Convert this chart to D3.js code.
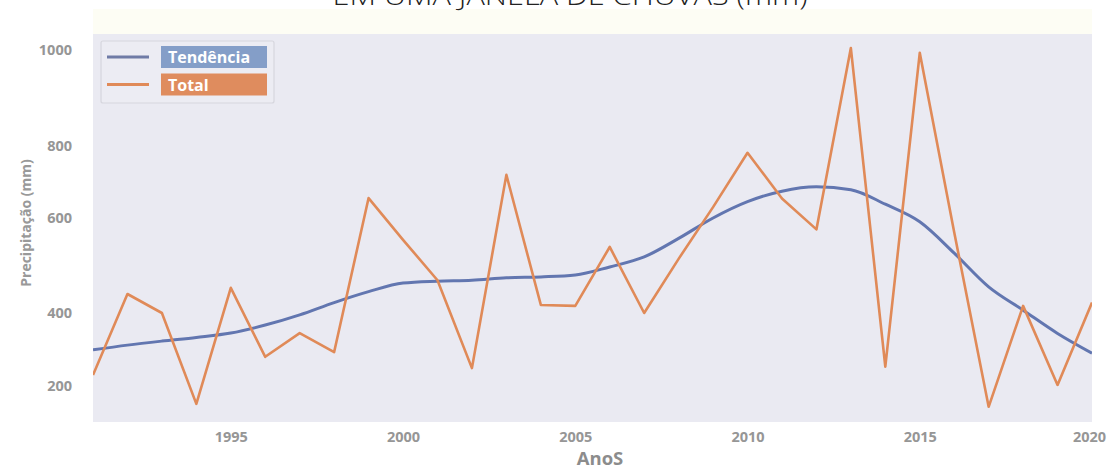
<!DOCTYPE html>
<html><head><meta charset="utf-8">
<script src="https://cdn.jsdelivr.net/npm/d3@7"></script>
<style>
html,body{margin:0;padding:0;background:#fff;}
svg{display:block;font-family:"Open Sans","Noto Sans",sans-serif;}
</style></head>
<body><svg id="c" width="1110" height="469"></svg>
<script>
const years = d3.range(1991, 2021);
const total = [230,440,400,151,453,280,345,293,655,554,469,249,719,417,415,539,400,514,630,780,654,576,1004,253,994,570,143,415,203,422];
const trend = [299,312,323,333,345,367,395,422,445,463,467,469,474,476,480,497,518,557,600,645,674,686,678,638,592,526,455,406,344,290];
const xTicks = [1995,2000,2005,2010,2015,2020];
const yTicks = [200,400,600,800,1000];
const seriesNames = ["Tendência","Total"];
const titleText = "EM UMA JANELA DE CHUVAS (mm)";
const xLabel = "AnoS";
const yLabel = "Precipitação (mm)";

const svg = d3.select("#c");
const L = 93, R = 1092, T = 34, B = 422;
const blue = "#6276b0", orange = "#e08a58";

const x = d3.scaleLinear().domain([1991, 2020]).range([L, R]);
// the printed axis has uneven spacing between its labels
const y = d3.scaleLinear().domain(yTicks).range([386, 313, 218, 145.5, 50]);

// title band
svg.append("rect").attr("x", L).attr("y", 9).attr("width", R - L).attr("height", T - 9).attr("fill", "#fdfdf4");
svg.append("text").attr("x", 570).attr("y", 5).attr("text-anchor", "middle")
  .attr("font-size", 26).attr("fill", "#222").attr("font-weight", 300)
  .attr("textLength", 475).attr("lengthAdjust", "spacingAndGlyphs").text(titleText);

// plot background
svg.append("rect").attr("x", L).attr("y", T).attr("width", R - L).attr("height", B - T).attr("fill", "#eaeaf2");

svg.append("clipPath").attr("id", "pc").append("rect")
  .attr("x", L).attr("y", T).attr("width", R - L).attr("height", B - T);
const g = svg.append("g").attr("clip-path", "url(#pc)");

const lineTrend = d3.line().x((d, i) => x(years[i])).y(d => y(d)).curve(d3.curveMonotoneX);
const lineTotal = d3.line().x((d, i) => x(years[i])).y(d => y(d));

g.append("path").datum(trend).attr("d", lineTrend).attr("fill", "none")
  .attr("stroke", blue).attr("stroke-width", 3).attr("stroke-linejoin", "round");
g.append("path").datum(total).attr("d", lineTotal).attr("fill", "none")
  .attr("stroke", orange).attr("stroke-width", 2.6).attr("stroke-linejoin", "round");

// axes
const xAxis = d3.axisBottom(x).tickValues(xTicks).tickFormat(d3.format("d")).tickSize(0).tickPadding(10);
const xa = svg.append("g").attr("transform", `translate(0,${B})`).call(xAxis);
const yAxis = d3.axisLeft(y).tickValues(yTicks).tickFormat(d3.format("d")).tickSize(0).tickPadding(21);
const ya = svg.append("g").attr("transform", `translate(${L},0)`).call(yAxis);
[xa, ya].forEach(a => {
  a.select(".domain").remove();
  a.selectAll("text").attr("font-family", "'Open Sans','Noto Sans',sans-serif")
    .attr("font-size", 14.5).attr("font-weight", "bold").attr("fill", "#969696");
});
xa.selectAll(".tick").filter(d => d === 2020).select("text").attr("dx", -3);

svg.append("text").attr("x", 600).attr("y", 465).attr("text-anchor", "middle")
  .attr("font-size", 18.5).attr("font-weight", "bold").attr("fill", "#8c8c8c").text(xLabel);
svg.append("text").attr("transform", "translate(31,223) rotate(-90)").attr("text-anchor", "middle")
  .attr("font-size", 14).attr("font-weight", "bold").attr("fill", "#999").text(yLabel);

// legend
const lg = svg.append("g");
lg.append("rect").attr("x", 101).attr("y", 41).attr("width", 173).attr("height", 62)
  .attr("fill", "#ececf3").attr("stroke", "#d6d6de").attr("stroke-width", 1.2).attr("rx", 2);
const legColors = ["#6f7ba6", orange];
const boxColors = ["#849ec8", "#df8c5e"];
seriesNames.forEach((n, i) => {
  const cy = 57 + i * 27.5;
  lg.append("line").attr("x1", 107).attr("x2", 149).attr("y1", cy).attr("y2", cy)
    .attr("stroke", legColors[i]).attr("stroke-width", 3);
  lg.append("rect").attr("x", 161).attr("y", cy - 11).attr("width", 106).attr("height", 22).attr("fill", boxColors[i]);
  lg.append("text").attr("x", 168).attr("y", cy + 6).attr("font-size", 16).attr("font-weight", "bold")
    .attr("fill", "#fff").text(n);
});
</script></body></html>
